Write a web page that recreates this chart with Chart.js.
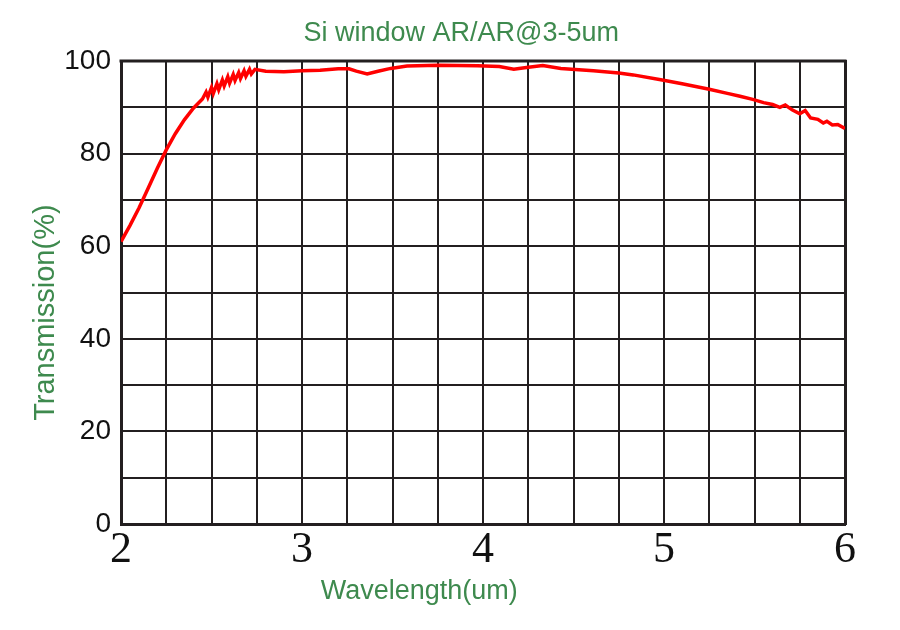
<!DOCTYPE html>
<html>
<head>
<meta charset="utf-8">
<title>Si window AR/AR@3-5um</title>
<script src="https://cdn.jsdelivr.net/npm/chart.js@4.4.0/dist/chart.umd.min.js"></script>
<style>
  html, body { margin: 0; padding: 0; background: #fff; }
  #wrap { width: 900px; height: 630px; }
</style>
</head>
<body>
<div id="wrap"><canvas id="chart" width="900" height="630"></canvas></div>
<script>
// Transmission curve
const wavelengths = [
  2.00, 2.05, 2.10, 2.15, 2.20, 2.25, 2.30, 2.35, 2.40, 2.45,
  2.47, 2.48, 2.50, 2.51, 2.53, 2.54, 2.56, 2.57, 2.59, 2.60,
  2.62, 2.63, 2.65, 2.66, 2.68, 2.69, 2.71, 2.72, 2.74,
  2.80, 2.90, 3.00, 3.10, 3.20, 3.26, 3.30, 3.36, 3.42, 3.49,
  3.58, 3.75, 3.97, 4.09, 4.17, 4.24, 4.33, 4.43, 4.61, 4.75,
  4.83, 4.99, 5.10, 5.25, 5.35, 5.42, 5.49, 5.55, 5.60, 5.64,
  5.67, 5.71, 5.75, 5.78, 5.81, 5.85, 5.88, 5.90, 5.93, 5.96, 6.00
];
const transmission = [
  61.0, 64.5, 68.3, 72.5, 76.8, 80.8, 84.3, 87.3, 89.8, 91.8,
  93.3, 92.2, 94.3, 93.0, 95.1, 93.8, 95.9, 94.6, 96.6, 95.2,
  97.1, 95.8, 97.5, 96.2, 97.9, 96.7, 98.2, 97.2, 98.2,
  97.8, 97.7, 97.9, 98.0, 98.3, 98.3, 97.8, 97.2, 97.8, 98.4,
  98.9, 99.1, 99.0, 98.8, 98.2, 98.6, 99.0, 98.4, 97.9, 97.4,
  97.0, 95.9, 95.1, 93.9, 93.0, 92.4, 91.7, 91.0, 90.6, 90.0,
  90.5, 89.4, 88.6, 89.3, 87.7, 87.4, 86.6, 87.0, 86.2, 86.3, 85.4
];
const xMin = 2, xMax = 6, xStep = 0.25;
const yMin = 0, yMax = 100, yStep = 10;

const titleText = "Si window AR/AR@3-5um";
const xTitle = "Wavelength(um)";
const yTitle = "Transmission(%)";

const green = "rgb(62, 138, 78)";
const gridColor = "#231f20";
const sans = "'Liberation Sans', Arial, sans-serif";
const nb = (n) => "\u00a0".repeat(n);

const points = wavelengths.map((w, i) => ({ x: w, y: transmission[i] }));

new Chart(document.getElementById("chart").getContext("2d"), {
  type: "line",
  data: {
    datasets: [{
      data: points,
      borderColor: "#ff0000",
      borderWidth: 3.5,
      pointRadius: 0,
      tension: 0,
      fill: false,
    }],
  },
  options: {
    responsive: false,
    animation: false,
    layout: { padding: 0 },
    plugins: {
      legend: { display: false },
      tooltip: { enabled: false },
      title: {
        display: true,
        text: nb(3) + titleText,
        color: green,
        font: { family: sans, size: 27, weight: "normal" },
        padding: { top: 17, bottom: 11.6 },
      },
    },
    scales: {
      x: {
        type: "linear",
        min: xMin,
        max: xMax,
        afterFit: (s) => { s.height = 106; },
        ticks: {
          stepSize: xStep,
          autoSkip: false,
          maxRotation: 0,
          padding: 0,
          color: "#111",
          font: { family: "'Liberation Serif', 'Times New Roman', serif", size: 44 },
          callback: (v) => (Number.isInteger(v) ? v : ""),
        },
        grid: { color: gridColor, lineWidth: 2, drawTicks: false },
        border: { color: gridColor, width: 3 },
        title: {
          display: true,
          text: xTitle + nb(17),
          color: green,
          font: { family: sans, size: 27 },
          padding: { bottom: 22 },
        },
      },
      y: {
        min: yMin,
        max: yMax,
        afterFit: (s) => { s.width = 121; },
        ticks: {
          stepSize: yStep,
          autoSkip: false,
          padding: 10,
          color: "#111",
          font: { family: sans, size: 28 },
          callback: (v) => (v % 20 === 0 ? v : ""),
        },
        grid: { color: gridColor, lineWidth: 2, drawTicks: false },
        border: { color: gridColor, width: 3 },
        title: {
          display: true,
          text: yTitle + nb(5),
          color: green,
          font: { family: sans, size: 29 },
          padding: { top: 29 },
        },
      },
      // empty right axis: keeps the plot edge at 845 and draws the right frame line
      yRight: {
        position: "right",
        min: yMin,
        max: yMax,
        afterFit: (s) => { s.width = 55; },
        ticks: { display: false },
        grid: { display: false },
        border: { color: gridColor, width: 3 },
      },
    },
  },
  plugins: [{
    // top edge of the frame
    id: "frameTop",
    afterDraw(chart) {
      const { ctx, chartArea: a } = chart;
      ctx.save();
      ctx.strokeStyle = gridColor;
      ctx.lineWidth = 3;
      ctx.beginPath();
      ctx.moveTo(a.left - 1.5, a.top);
      ctx.lineTo(a.right + 1.5, a.top);
      ctx.stroke();
      ctx.restore();
    },
  }],
});
</script>
</body>
</html>
